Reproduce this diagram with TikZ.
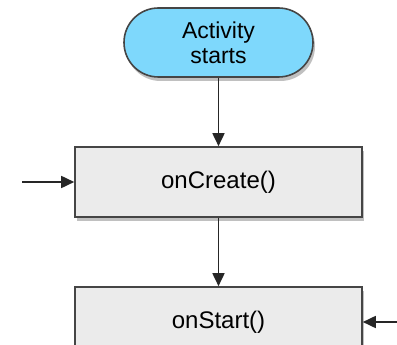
\documentclass[tikz,border=0pt]{standalone}
\usepackage{fontspec}
\setmainfont{Liberation Sans}
\usetikzlibrary{arrows.meta,shadows,shapes.misc}
\definecolor{pillfill}{HTML}{7ED8FC}
\definecolor{boxfill}{HTML}{EBEBEB}
\definecolor{edge}{HTML}{454545}
\tikzset{
  shade/.style={drop shadow={shadow xshift=2pt,shadow yshift=-4pt,opacity=0.35,fill=black!70}},
  pill/.style={rounded rectangle,draw=edge,line width=1.6pt,fill=pillfill,minimum width=189pt,minimum height=69pt,inner sep=0pt,align=center,font=\fontsize{23}{25}\selectfont,shade},
  stepbox/.style={rectangle,draw=edge,line width=1.6pt,fill=boxfill,minimum width=287pt,minimum height=70pt,inner sep=0pt,font=\fontsize{24}{26}\selectfont,shade},
  arr/.style={draw=black!85,line width=1.7pt,-{Triangle[length=13pt,width=12pt]}}
}
\begin{document}
\begin{tikzpicture}[x=1pt,y=1pt]
\clip (0,0) rectangle (397,-345);
\fill[white] (0,0) rectangle (397,-345);
\node[pill] (start) at (218.5,-42.5) {Activity\\starts};
\node[stepbox] (create) at (218.5,-182) {onCreate()};
\node[stepbox] (onstart) at (218.5,-322) {onStart()};
\coordinate (lin) at (22,-182);
\coordinate (rin) at (397,-322);
\draw[arr] (start.south -| create.north) -- (create.north);
\draw[arr] (create.south) -- (onstart.north);
\draw[arr] (lin) -- (create.west);
\draw[arr] (rin) -- (onstart.east);
\end{tikzpicture}
\end{document}
